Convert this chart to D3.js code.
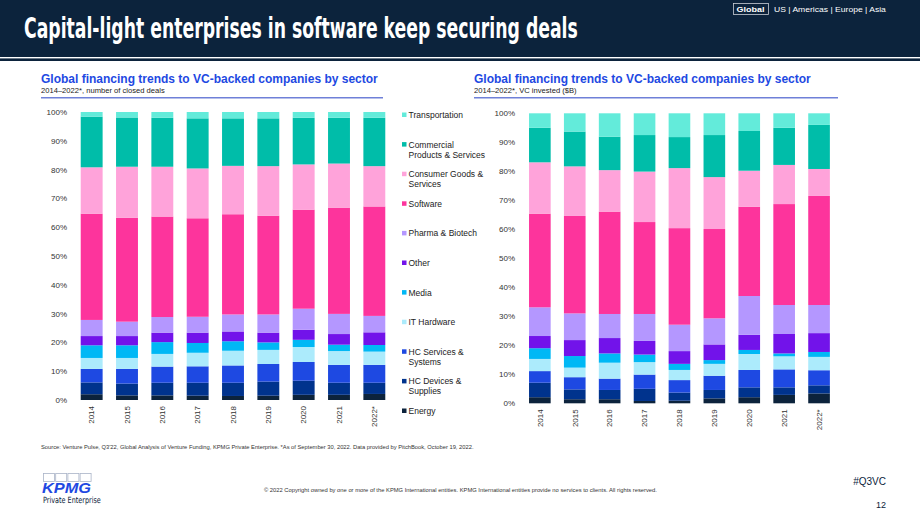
<!DOCTYPE html>
<html>

<head>
    <meta charset="UTF-8" />
    <title>VC sectors</title>
    <style>
        body {
            margin: 0;
            padding: 0;
            background-color: white;
            font-family: 'Liberation Sans', Arial, sans-serif;
        }

        .tick-label {
            font-size: 8px;
            fill: #333;
        }

        .legend-label {
            font-size: 8.5px;
            fill: #222;
        }
    </style>
</head>

<body>

    <div id="chart"></div>

    <script src="https://cdnjs.cloudflare.com/ajax/libs/d3/7.8.5/d3.min.js"></script>

    <script>
        // --- data (shares in %, bottom segment first) ---
        const years = ['2014', '2015', '2016', '2017', '2018', '2019', '2020', '2021', '2022*']
        const sectors = ['Energy', 'HC Devices & Supplies', 'HC Services & Systems', 'IT Hardware', 'Media',
            'Other', 'Pharma & Biotech', 'Software', 'Consumer Goods & Services',
            'Commercial Products & Services', 'Transportation']
        const sectorColors = ['#0c233c', '#00338d', '#1e49e2', '#acebfc', '#00b8f5',
            '#7213ea', '#b497ff', '#fd349c', '#ffa3da', '#00bda9', '#63ebda']

        // number of closed deals, one row per sector
        const dealShares = [
            [2.0, 1.6, 1.6, 1.5, 1.4, 1.5, 1.8, 1.8, 2.1],
            [4.1, 4.1, 4.4, 4.5, 4.6, 4.9, 4.9, 4.2, 3.9],
            [4.7, 5.1, 5.6, 5.7, 6.0, 6.1, 6.5, 6.2, 6.2],
            [3.8, 3.8, 4.4, 4.7, 5.1, 4.9, 5.2, 4.8, 4.6],
            [4.4, 4.4, 4.1, 3.4, 3.3, 2.6, 2.5, 2.2, 2.3],
            [3.2, 3.2, 3.3, 3.6, 3.4, 3.4, 3.5, 3.7, 4.4],
            [5.6, 5.0, 5.4, 5.5, 5.9, 6.3, 7.3, 7.0, 5.7],
            [36.9, 36.1, 34.9, 34.2, 34.8, 34.3, 34.4, 36.9, 38.0],
            [16.1, 17.7, 17.3, 17.3, 16.8, 17.2, 15.7, 15.3, 14.0],
            [17.6, 17.1, 17.0, 17.4, 16.5, 16.6, 16.2, 15.9, 16.8],
            [1.6, 1.9, 2.0, 2.2, 2.2, 2.2, 2.0, 2.0, 2.0]
        ]

        // VC invested ($B), one row per sector
        const investShares = [
            [2.1, 1.4, 1.4, 0.8, 0.9, 1.7, 2.1, 2.9, 3.4],
            [5.0, 3.4, 3.2, 4.2, 2.8, 2.9, 3.4, 2.6, 2.8],
            [4.0, 4.2, 3.9, 4.9, 4.3, 4.9, 6.0, 6.2, 5.2],
            [4.2, 3.3, 5.5, 4.3, 3.5, 4.1, 5.5, 4.5, 4.6],
            [3.7, 4.0, 3.2, 2.6, 2.1, 1.3, 1.4, 1.0, 1.7],
            [4.2, 5.5, 5.3, 4.7, 4.4, 5.4, 5.2, 6.7, 6.5],
            [9.9, 9.2, 8.3, 9.3, 9.1, 9.0, 13.4, 10.0, 9.7],
            [32.3, 33.6, 35.3, 31.7, 33.3, 30.8, 30.8, 34.8, 37.6],
            [17.7, 17.1, 14.3, 17.4, 20.7, 17.9, 12.4, 13.5, 9.3],
            [11.9, 12.0, 11.5, 12.6, 10.7, 14.5, 13.7, 12.8, 15.2],
            [5.0, 6.3, 8.1, 7.5, 8.2, 7.5, 6.1, 5.0, 4.0]
        ]

        const yTicks = [0, 10, 20, 30, 40, 50, 60, 70, 80, 90, 100]

        // legend goes top to bottom, so reversed stack order
        const legendItems = [
            ['Transportation'], ['Commercial', 'Products & Services'], ['Consumer Goods &', 'Services'],
            ['Software'], ['Pharma & Biotech'], ['Other'], ['Media'], ['IT Hardware'],
            ['HC Services &', 'Systems'], ['HC Devices &', 'Supplies'], ['Energy']
        ]

        const W = 920, H = 518
        const svg = d3.select('#chart').append('svg')
            .attr('width', W)
            .attr('height', H)
            .style('display', 'block')

        // squeeze a text horizontally to a given width (keeps glyph height)
        function fitWidth(sel, x, width) {
            const natural = sel.node().getComputedTextLength()
            const k = width / natural
            sel.attr('x', 0).attr('transform', `translate(${x},0) scale(${k},1)`)
        }

        // header band
        svg.append('rect').attr('x', 0).attr('y', 0).attr('width', W).attr('height', 57).attr('fill', '#0c233c')
        svg.append('rect').attr('x', 0).attr('y', 58.4).attr('width', W).attr('height', 2.6).attr('fill', '#0c233c')

        const title = svg.append('text')
            .attr('y', 38)
            .style('font-family', "'Liberation Sans Narrow', 'DejaVu Sans Condensed', Arial, sans-serif")
            .style('font-weight', 'bold').style('font-size', '29px')
            .attr('fill', 'white')
            .text('Capital-light enterprises in software keep securing deals')
        fitWidth(title, 24, 554)

        // region nav
        svg.append('rect').attr('x', 733.5).attr('y', 3.5).attr('width', 35).attr('height', 11)
            .attr('fill', 'none').attr('stroke', '#c9ced6').attr('stroke-width', 0.8)
        const navG = svg.append('text').attr('y', 12.3)
            .style('font-size', '8px').style('font-weight', 'bold').attr('fill', 'white').text('Global')
        fitWidth(navG, 736.5, 28)
        const navR = svg.append('text').attr('y', 12.3)
            .style('font-size', '8px').attr('fill', 'white').text('US | Americas | Europe | Asia')
        fitWidth(navR, 774, 112)

        function drawChart(opts) {
            const g = svg.append('g')

            g.append('text').attr('x', opts.left).attr('y', 82.5)
                .style('font-size', '12px').style('font-weight', 'bold').attr('fill', '#1e49e2')
                .text('Global financing trends to VC-backed companies by sector')
            g.append('text').attr('x', opts.left).attr('y', 92.5)
                .style('font-size', '7.6px').attr('fill', '#222')
                .text(opts.subtitle)
            g.append('line')
                .attr('x1', opts.left).attr('x2', opts.lineEnd)
                .attr('y1', 97.8).attr('y2', 97.8)
                .attr('stroke', '#6f80d8').attr('stroke-width', 1.4)

            const x = d3.scaleBand().domain(years).range(opts.xRange).paddingInner(0.38).paddingOuter(0.19)
            const y = d3.scaleLinear().domain([0, 100]).range(opts.yRange)

            const rows = years.map((yr, i) => {
                const r = { year: yr }
                sectors.forEach((s, k) => { r[s] = opts.values[k][i] })
                return r
            })
            const series = d3.stack().keys(sectors)(rows)

            g.selectAll('g.layer')
                .data(series)
                .join('g')
                .attr('class', 'layer')
                .attr('fill', (d, i) => sectorColors[i])
                .selectAll('rect')
                .data(d => d)
                .join('rect')
                .attr('x', d => x(d.data.year))
                .attr('width', x.bandwidth())
                .attr('y', d => y(d[1]))
                .attr('height', d => y(d[0]) - y(d[1]))

            // y axis, labels only
            const yAxis = g.append('g')
                .attr('transform', `translate(${opts.yLabelX},0)`)
                .call(d3.axisLeft(y).tickValues(yTicks).tickFormat(d => d + '%').tickSize(0).tickPadding(0))
            yAxis.select('.domain').remove()
            yAxis.selectAll('text').attr('class', 'tick-label').attr('fill', '#333')
                .style('font-family', "'Liberation Sans', Arial, sans-serif")

            // x axis, rotated year labels
            const xAxis = g.append('g')
                .attr('transform', `translate(0,${opts.yRange[0]})`)
                .call(d3.axisBottom(x).tickSize(0).tickPadding(0))
            xAxis.select('.domain').remove()
            xAxis.selectAll('text')
                .attr('class', 'tick-label').attr('fill', '#333')
                .style('font-family', "'Liberation Sans', Arial, sans-serif")
                .attr('text-anchor', 'end')
                .attr('dy', '0.35em')
                .attr('transform', 'translate(0,6) rotate(-90)')
                .attr('y', 0).attr('x', 0)
        }

        drawChart({
            left: 41, lineEnd: 383,
            subtitle: '2014–2022*, number of closed deals',
            xRange: [74, 392], yRange: [400, 112], yLabelX: 67,
            values: dealShares
        })

        drawChart({
            left: 474, lineEnd: 838,
            subtitle: '2014–2022*, VC invested ($B)',
            xRange: [522.4, 836.5], yRange: [403.3, 113.3], yLabelX: 515,
            values: investShares
        })

        // legend
        const legendY = d3.scalePoint().domain(legendItems.map(d => d[0])).range([115, 411])
        const legend = svg.append('g')
        legendItems.forEach((item, i) => {
            const yy = legendY(item[0])
            legend.append('rect')
                .attr('x', 402).attr('y', yy - 2.5).attr('width', 4.5).attr('height', 4.5)
                .attr('fill', sectorColors[sectors.length - 1 - i])
            item.forEach((line, j) => {
                legend.append('text')
                    .attr('class', 'legend-label')
                    .attr('x', 408.5).attr('y', yy + 3 + j * 10)
                    .text(line)
            })
        })

        // footer
        const source = svg.append('text').attr('y', 449)
            .style('font-size', '5.5px').attr('fill', '#333')
            .text('Source: Venture Pulse, Q3\'22, Global Analysis of Venture Funding, KPMG Private Enterprise. *As of September 30, 2022. Data provided by PitchBook, October 19, 2022.')
        fitWidth(source, 41, 434)

        const copyright = svg.append('text').attr('y', 492)
            .style('font-size', '5.3px').attr('fill', '#333')
            .text('© 2022 Copyright owned by one or more of the KPMG International entities. KPMG International entities provide no services to clients. All rights reserved.')
        fitWidth(copyright, 264, 393)

        // KPMG logo
        const logo = svg.append('g')
        d3.range(4).forEach(i => {
            logo.append('rect')
                .attr('x', 43.5 + i * 12.2).attr('y', 473.5).attr('width', 11).attr('height', 8)
                .attr('fill', 'none').attr('stroke', '#aab4c8').attr('stroke-width', 0.8)
        })
        const kpmg = logo.append('text').attr('y', 493)
            .style('font-size', '15px').style('font-weight', 'bold').style('font-style', 'italic')
            .attr('fill', '#1e49e2').text('KPMG')
        fitWidth(kpmg, 42, 49)
        const pe = logo.append('text').attr('y', 503.5)
            .style('font-family', "'Liberation Sans Narrow', 'DejaVu Sans Condensed', Arial, sans-serif")
            .style('font-size', '8.5px').attr('fill', '#0c233c').text('Private Enterprise')
        fitWidth(pe, 43, 58)

        svg.append('text').attr('x', 886).attr('y', 485).attr('text-anchor', 'end')
            .style('font-size', '10px').attr('fill', '#0c233c').text('#Q3VC')
        svg.append('text').attr('x', 886).attr('y', 508).attr('text-anchor', 'end')
            .style('font-size', '9px').attr('fill', '#0c233c').text('12')
    </script>
</body>

</html>
